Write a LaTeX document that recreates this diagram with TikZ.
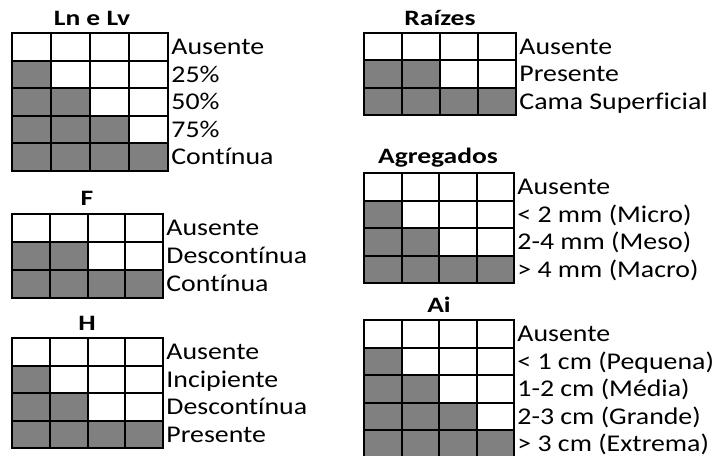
\documentclass[tikz,border=0pt]{standalone}
\usepackage{fontspec}
\setmainfont{Carlito}
\newfontfamily\legendfont[FakeStretch=1.16, Ligatures=NoCommon]{Carlito}
\newfontfamily\headfont[FakeStretch=1.25]{Carlito}

% one block of cells: x0, y0, cell width, cell height, grey cells per row
\newcommand{\levelgrid}[5]{%
  \foreach \n [count=\r from 0] in {#5} {
    \fill[level] (#1,#2+\r*#4) rectangle ++(\n*#3,#4);
    \foreach \c in {0,...,3}
      \draw[cell] (#1+\c*#3,#2+\r*#4) rectangle ++(#3,#4);
  }%
}

\begin{document}
\begin{tikzpicture}[
  x=0.5pt, y=-0.5pt,
  cell/.style={draw=black, line width=1pt},
  level/.style={fill=black!50},
  head/.style={font=\headfont\fontsize{11}{13}\selectfont\bfseries, inner sep=0pt},
  legend/.style={anchor=mid west, font=\legendfont\fontsize{12}{14}\selectfont, inner sep=0pt, yshift=-1.5pt}
]
\useasboundingbox (0,0) rectangle (715,455);

% Ln e Lv
\node[head] (lnlvt) at (92,18) {Ln e Lv};
\levelgrid{12}{33}{39}{27.6}{0,1,2,3,4}
\node[legend] (lnlv0) at (171,46.8) {Ausente};
\node[legend] (lnlv1) at (171,74.4) {25\%};
\node[legend] (lnlv2) at (171,102) {50\%};
\node[legend] (lnlv3) at (171,129.6) {75\%};
\node[legend] (lnlv4) at (171,157.2) {Contínua};

% F
\node[head] (ft) at (87,198) {F};
\levelgrid{12}{214}{37.75}{28}{0,2,4}
\node[legend] (f0) at (166,228) {Ausente};
\node[legend] (f1) at (166,256) {Descontínua};
\node[legend] (f2) at (166,284) {Contínua};

% H
\node[head] (ht) at (87,323) {H};
\levelgrid{12}{338}{37.75}{27.5}{0,1,2,4}
\node[legend] (h0) at (166,351.75) {Ausente};
\node[legend] (h1) at (166,379.25) {Incipiente};
\node[legend] (h2) at (166,406.75) {Descontínua};
\node[legend] (h3) at (166,434.25) {Presente};

% Raizes
\node[head] (rt) at (440,18) {Raízes};
\levelgrid{364}{33}{38}{27.3}{0,2,4}
\node[legend] (r0) at (519,46.7) {Ausente};
\node[legend] (r1) at (519,74) {Presente};
\node[legend] (r2) at (519,101.3) {Cama Superficial};

% Agregados
\node[head] (at) at (438,158) {Agregados};
\levelgrid{364}{173}{37.5}{27.5}{0,1,2,4}
\node[legend] (a0) at (517,186.75) {Ausente};
\node[legend] (a1) at (517,214.25) {< 2 mm (Micro)};
\node[legend] (a2) at (517,241.75) {2-4 mm (Meso)};
\node[legend] (a3) at (517,269.25) {> 4 mm (Macro)};

% Ai
\node[head] (ait) at (439,305) {Ai};
\levelgrid{364}{320}{37.5}{27.5}{0,1,2,3,4}
\node[legend] (ai0) at (517,333.75) {Ausente};
\node[legend] (ai1) at (517,361.25) {< 1 cm (Pequena)};
\node[legend] (ai2) at (517,388.75) {1-2 cm (Média)};
\node[legend] (ai3) at (517,416.25) {2-3 cm (Grande)};
\node[legend] (ai4) at (517,443.75) {> 3 cm (Extrema)};

\end{tikzpicture}
\end{document}
